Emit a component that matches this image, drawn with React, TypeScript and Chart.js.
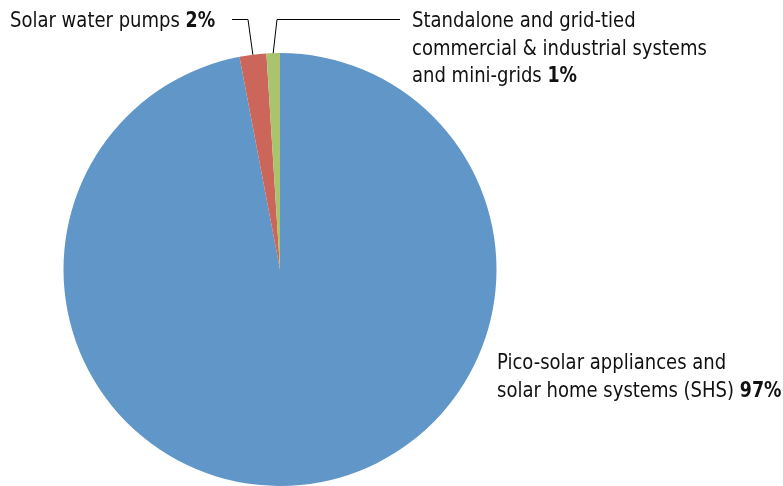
import React, { useEffect, useRef } from "react";
import { Chart, registerables } from "chart.js";

Chart.register(...registerables);

// Segment names, as printed next to the pie (line breaks as laid out)
const categories = [
  "Pico-solar appliances and solar home systems (SHS)",
  "Solar water pumps",
  "Standalone and grid-tied commercial & industrial systems and mini-grids",
];
const categoryLines = [
  ["Pico-solar appliances and", "solar home systems (SHS)"],
  ["Solar water pumps"],
  ["Standalone and grid-tied", "commercial & industrial systems", "and mini-grids"],
];
// Share of each segment, in percent
const shares = [97, 2, 1];
const sliceColors = ["#6096c8", "#cd665a", "#a9c46c"];

const FONT_FAMILY = '"DejaVu Sans Condensed", "DejaVu Sans", sans-serif';
const FONT_SIZE = 22;
const TEXT_SQUEEZE = 0.91; // narrow the condensed face a little more
const BOLD_SQUEEZE = 0.88;
const LINE_HEIGHT = 27.5;

// Where each text block sits, and the corner of its leader line (if any)
const labelLayout = [
  { x: 497, y: 369, leader: null as null | { from: [number, number]; elbow: [number, number] } },
  { x: 10, y: 27, leader: { from: [232, 19] as [number, number], elbow: [248, 19] as [number, number] } },
  { x: 412, y: 27, leader: { from: [400, 19] as [number, number], elbow: [277, 19] as [number, number] } },
];

const outsideLabels = {
  id: "outsideLabels",
  afterDraw(chart: Chart) {
    const ctx = chart.ctx;
    const meta = chart.getDatasetMeta(0);
    ctx.save();
    ctx.fillStyle = "#111111";
    ctx.textBaseline = "alphabetic";
    ctx.textAlign = "left";
    categoryLines.forEach((lines, i) => {
      const lay = labelLayout[i];
      lines.forEach((line, j) => {
        const y = lay.y + j * LINE_HEIGHT;
        const isLast = j === lines.length - 1;
        const text = isLast ? line + " " : line;
        ctx.save();
        ctx.translate(lay.x, y);
        ctx.scale(TEXT_SQUEEZE, 1);
        ctx.font = `${FONT_SIZE}px ${FONT_FAMILY}`;
        ctx.fillText(text, 0, 0);
        const w = ctx.measureText(text).width;
        ctx.restore();
        if (isLast) {
          ctx.save();
          ctx.translate(lay.x + w * TEXT_SQUEEZE, y);
          ctx.scale(BOLD_SQUEEZE, 1);
          ctx.font = `bold ${FONT_SIZE}px ${FONT_FAMILY}`;
          ctx.fillText(`${shares[i]}%`, 0, 0);
          ctx.restore();
        }
      });
      if (lay.leader) {
        const arc: any = meta.data[i];
        const mid = (arc.startAngle + arc.endAngle) / 2;
        const ex = arc.x + Math.cos(mid) * arc.outerRadius;
        const ey = arc.y + Math.sin(mid) * arc.outerRadius;
        ctx.strokeStyle = "#000000";
        ctx.lineWidth = 1;
        ctx.beginPath();
        ctx.moveTo(lay.leader.from[0], lay.leader.from[1] + 0.5);
        ctx.lineTo(lay.leader.elbow[0], lay.leader.elbow[1] + 0.5);
        ctx.lineTo(ex, ey);
        ctx.stroke();
      }
    });
    ctx.restore();
  },
};

export default function App() {
  const canvasRef = useRef<HTMLCanvasElement | null>(null);

  useEffect(() => {
    if (!canvasRef.current) return;
    const chart = new Chart(canvasRef.current, {
      type: "pie",
      data: {
        labels: categories,
        datasets: [
          {
            data: shares,
            backgroundColor: sliceColors,
            borderWidth: 0,
          },
        ],
      },
      options: {
        responsive: false,
        animation: false,
        layout: { padding: { left: 63, right: 286, top: 53, bottom: 0 } },
        plugins: {
          legend: { display: false },
          tooltip: { enabled: false },
        },
      },
      plugins: [outsideLabels],
    });
    return () => chart.destroy();
  }, []);

  return (
    <div style={{ position: "absolute", left: 0, top: 0, width: 783, height: 486, background: "#ffffff" }}>
      <canvas ref={canvasRef} width={783} height={486} />
    </div>
  );
}
